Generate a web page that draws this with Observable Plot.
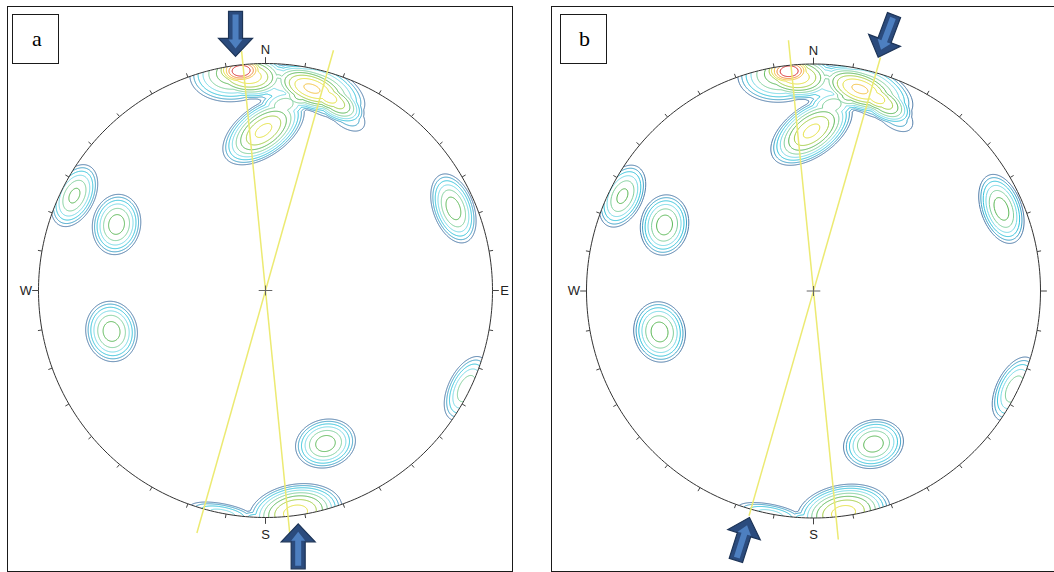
<!DOCTYPE html>
<html>
<head>
<meta charset="utf-8">
<script src="https://cdn.jsdelivr.net/npm/d3@7"></script>
<script src="https://cdn.jsdelivr.net/npm/@observablehq/plot@0.6"></script>
<style>
html, body { margin: 0; padding: 0; background: #fff; width: 1054px; height: 572px; overflow: hidden; position: relative; }
.panel { position: absolute; border: 1px solid #1a1a1a; box-sizing: border-box; overflow: hidden; }
.panel svg { position: absolute; left: 0; top: 0; background: transparent; }
.tag { position: absolute; border: 1px solid #1a1a1a; box-sizing: border-box; background: #fff;
       font-family: "Liberation Serif", "Times New Roman", serif; font-size: 22px; color: #000;
       height: 50px; line-height: 48px; z-index: 2; }
</style>
</head>
<body>
<div id="pa" class="panel" style="left:7px; top:6px; width:506px; height:566px;"></div>
<div id="pb" class="panel" style="left:551px; top:6px; width:520px; height:566px;"></div>
<div class="tag" style="left:12px; top:14px; width:47px; padding-left:19px;">a</div>
<div class="tag" style="left:560px; top:14px; width:47px; padding-left:18px;">b</div>
<script>
// ---------------- data ----------------
// contour levels (multiples of the contour interval) and their colours
const levels = [1, 2, 3, 4, 5, 6, 7, 8, 9, 10, 11];
const levelColors = ["#4a78a6", "#3a9fc6", "#2fc0d9", "#72d7e4", "#7ccd99", "#57b552",
                     "#9fcb3e", "#e3df3a", "#f2bf3c", "#ef8836", "#d52b2b"];

// pole concentrations (lower hemisphere): centre trend/plunge, peak density, spread (net units), long-axis orientation
const kernelTrend  = [352.0, 353.3, 4.9, 15.8, 24.3, 359.3, 296.4, 293.9, 255.1, 66.4, 116.0, 158.6, 172.3, 190.9];
const kernelPlunge = [3.2, 1.7, 10.6, 8.8, 15.5, 30.2, 6.7, 29.0, 30.5, 10.6, 1.7, 28.4, 1.5, 0.0];
const kernelPeak   = [7.0, 4.0, 4.2, 6.6, 3.0, 8.3, 6.3, 6.6, 6.6, 6.6, 5.8, 6.6, 8.5, 4.5];
const kernelMajor  = [0.215, 0.088, 0.260, 0.220, 0.123, 0.220, 0.159, 0.145, 0.145, 0.172, 0.167, 0.145, 0.220, 0.167];
const kernelMinor  = [0.140, 0.053, 0.100, 0.115, 0.070, 0.119, 0.097, 0.115, 0.123, 0.097, 0.088, 0.115, 0.132, 0.048];
const kernelAxis   = [7, 7, -12, -27, -40, 36, 63.6, 80, 100, 110, 64, 15, 10, -11];

// net furniture
const tickAzimuths = d3.range(0, 360, 10);
const cardinalNames = ["N", "E", "S", "W"];
const cardinalAzimuths = [0, 90, 180, 270];
const cardinalShownA = ["N", "E", "S", "W"];
const cardinalShownB = ["N", "S", "W"];

// vertical planes (yellow traces): trend and extent beyond the primitive
const planeTrendA = [354.3, 15.8];
const planeReachUpA = [1.06, 1.10];
const planeReachDownA = [1.08, 1.11];
const planeTrendB = [354.3, 16.0];
const planeReachUpB = [1.11, 1.07];
const planeReachDownB = [1.10, 1.03];

// block arrows: tip position (net units) and heading (degrees clockwise from N)
const arrowTipXA = [-0.132, 0.144];
const arrowTipYA = [1.031, -1.028];
const arrowHeadingA = [180, 0];
const arrowTipXB = [0.285, -0.282];
const arrowTipYB = [1.030, -0.998];
const arrowHeadingB = [200.6, 17.6];

// ---------------- helpers ----------------
const rad = Math.PI / 180;
function project(trend, plunge) {            // Schmidt (equal-area) lower hemisphere
  const r = Math.SQRT2 * Math.sin((90 - plunge) / 2 * rad);
  return [r * Math.sin(trend * rad), r * Math.cos(trend * rad)];
}
const kernels = kernelTrend.map((t, i) => {
  const [cx, cy] = project(t, kernelPlunge[i]);
  const th = kernelAxis[i] * rad;
  return {cx, cy, c: Math.cos(th), s: Math.sin(th), A: kernelPeak[i], a: kernelMajor[i], b: kernelMinor[i]};
});
function density(x, y) {
  let sum = 0;
  for (const k of kernels) {
    const dx = x - k.cx, dy = y - k.cy;
    const u = (dx * k.c + dy * k.s) / k.a, v = (-dx * k.s + dy * k.c) / k.b;
    const q = u * u + v * v;
    if (q < 1) sum += k.A * (1 - q);
  }
  return sum;
}
function arrowSymbol(heading, poly) {
  const h = heading * rad, fx = Math.sin(h), fy = -Math.cos(h), px = Math.cos(h), py = Math.sin(h);
  return {draw(ctx) {
    poly.forEach(([a, b], i) => {
      const X = -a * fx + b * px, Y = -a * fy + b * py;
      if (i) ctx.lineTo(X, Y); else ctx.moveTo(X, Y);
    });
    ctx.closePath();
  }};
}
const arrowOuter = [[0, 0], [18, -17], [18, -7], [45, -7], [45, 7], [18, 7], [18, 17]];
const arrowInner = [[8, 0], [17, -7], [17, -3], [42, -3], [42, 3], [17, 3], [17, 7]];
const circleAz = d3.range(0, 361, 1);

function stereonet(id, frame, planeTrend, reachUp, reachDown, tipX, tipY, heading, names) {
  const {width, height, cx, cy, R} = frame;
  const arrowMarks = [];
  tipX.forEach((x, i) => {
    arrowMarks.push(Plot.dot([i], {x: j => tipX[j], y: j => tipY[j], r: 10,
      symbol: arrowSymbol(heading[i], arrowOuter), fill: "#2b4b7d", stroke: "#1d3457", strokeWidth: 1.2}));
    arrowMarks.push(Plot.dot([i], {x: j => tipX[j], y: j => tipY[j], r: 10,
      symbol: arrowSymbol(heading[i], arrowInner), fill: "#4d7fc0", stroke: "none"}));
  });
  const labelDist = {N: 1.059, E: 1.053, S: 1.075, W: 1.055};
  const fig = Plot.plot({
    width, height,
    marginLeft: cx - R, marginRight: width - cx - R,
    marginTop: cy - R, marginBottom: height - cy - R,
    x: {domain: [-1, 1], axis: null},
    y: {domain: [-1, 1], axis: null},
    color: {type: "ordinal", domain: levels, range: levelColors},
    style: {background: "transparent"},
    marks: [
      Plot.contour({x1: -1.05, y1: -1.05, x2: 1.05, y2: 1.05, stroke: density, fill: "none",
                    thresholds: levels, strokeWidth: 1, pixelSize: 1}),
      Plot.line(circleAz, {x: a => Math.sin(a * rad), y: a => Math.cos(a * rad), stroke: "#333", strokeWidth: 1}),
      Plot.link(tickAzimuths, {
        x1: a => Math.sin(a * rad), y1: a => Math.cos(a * rad),
        x2: a => (a % 90 === 0 ? 1.028 : 1.018) * Math.sin(a * rad),
        y2: a => (a % 90 === 0 ? 1.028 : 1.018) * Math.cos(a * rad),
        stroke: "#444", strokeWidth: 1}),
      Plot.link(planeTrend.map((t, i) => i), {
        x1: i => reachUp[i] * Math.sin(planeTrend[i] * rad), y1: i => reachUp[i] * Math.cos(planeTrend[i] * rad),
        x2: i => -reachDown[i] * Math.sin(planeTrend[i] * rad), y2: i => -reachDown[i] * Math.cos(planeTrend[i] * rad),
        stroke: "#ecea72", strokeWidth: 1.5}),
      Plot.link([0, 1], {x1: i => i ? -0.03 : 0, y1: i => i ? 0 : -0.022, x2: i => i ? 0.03 : 0, y2: i => i ? 0 : 0.022,
        stroke: "#666", strokeWidth: 1}),
      Plot.text(names, {
        x: n => labelDist[n] * Math.sin(cardinalAzimuths[cardinalNames.indexOf(n)] * rad),
        y: n => labelDist[n] * Math.cos(cardinalAzimuths[cardinalNames.indexOf(n)] * rad),
        text: n => n, fontSize: 13, fontFamily: "Liberation Sans, Arial, sans-serif", fill: "#222",
        textAnchor: "middle", lineAnchor: "middle"}),
      ...arrowMarks
    ]
  });
  // clip density contours to the primitive circle
  const ns = "http://www.w3.org/2000/svg";
  const sx = fig.scale("x"), sy = fig.scale("y");
  const defs = document.createElementNS(ns, "defs");
  const cp = document.createElementNS(ns, "clipPath");
  cp.setAttribute("id", "clip-" + id);
  const c = document.createElementNS(ns, "circle");
  c.setAttribute("cx", sx.apply(0));
  c.setAttribute("cy", sy.apply(0));
  c.setAttribute("r", sx.apply(1) - sx.apply(0));
  cp.appendChild(c); defs.appendChild(cp);
  fig.insertBefore(defs, fig.firstChild);
  const g = fig.querySelector('g[aria-label="contour"]');
  if (g) g.setAttribute("clip-path", `url(#clip-${id})`);
  document.getElementById(id).appendChild(fig);
}

stereonet("pa", {width: 504, height: 564, cx: 257, cy: 283, R: 227},
  planeTrendA, planeReachUpA, planeReachDownA, arrowTipXA, arrowTipYA, arrowHeadingA, cardinalShownA);
stereonet("pb", {width: 496, height: 564, cx: 261, cy: 283.5, R: 227},
  planeTrendB, planeReachUpB, planeReachDownB, arrowTipXB, arrowTipYB, arrowHeadingB, cardinalShownB);
</script>
</body>
</html>
